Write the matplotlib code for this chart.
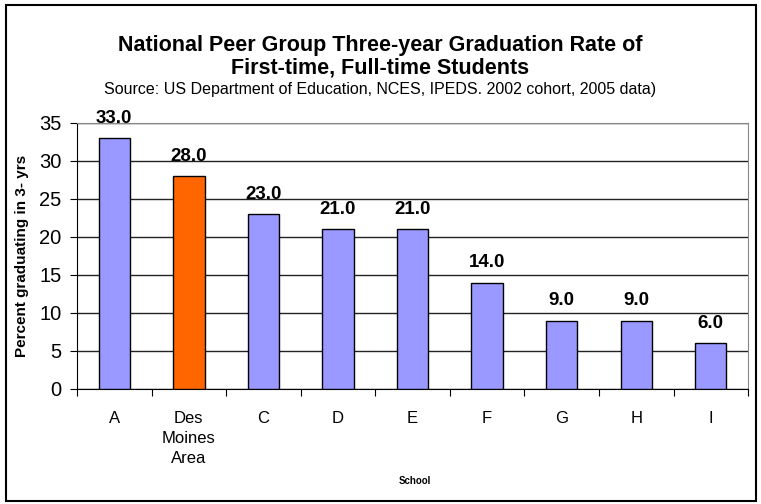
import matplotlib
matplotlib.use("Agg")
import matplotlib.pyplot as plt
from matplotlib.patches import Rectangle
import numpy as np

plt.rcParams["font.family"] = ["Liberation Sans", "DejaVu Sans"]

escuelas = ["A", "Des\nMoines\nArea", "C", "D", "E", "F", "G", "H", "I"]
tasas = [33.0, 28.0, 23.0, 21.0, 21.0, 14.0, 9.0, 9.0, 6.0]
colores = ["#9999FF", "#FF6600", "#9999FF", "#9999FF", "#9999FF",
           "#9999FF", "#9999FF", "#9999FF", "#9999FF"]

fig = plt.figure(figsize=(7.61, 5.04), dpi=100)
ax = fig.add_axes([0.1012, 0.2282, 0.8818, 0.5278])

x = np.arange(len(escuelas))
ax.bar(x, tasas, width=0.42, color=colores, edgecolor="black", linewidth=1, zorder=3)

for xi, v in zip(x, tasas):
    ax.annotate(f"{v:.1f}", (xi, v), xytext=(0, 8), textcoords="offset points",
                ha="center", va="bottom", fontsize=13.5, fontweight="bold", zorder=4)

ax.set_xlim(-0.5, len(escuelas) - 0.5)
ax.set_ylim(0, 35)
ax.set_yticks(range(0, 36, 5))
ax.tick_params(axis="y", labelsize=14.5, length=5, direction="out", pad=6)
ax.yaxis.grid(True, color="#222222", linewidth=1, zorder=0)

# etiquetas centradas, marcas en los limites de cada categoria
ax.set_xticks(np.arange(-0.5, len(escuelas), 1))
ax.set_xticklabels([])
ax.tick_params(axis="x", which="major", length=5, direction="out")
ax.set_xticks(x, minor=True)
ax.set_xticklabels(escuelas, minor=True, fontsize=12, linespacing=1.42)
ax.tick_params(axis="x", which="minor", length=0, pad=16)

for lado in ["top", "right"]:
    ax.spines[lado].set_color("#888888")
for lado in ["left", "bottom"]:
    ax.spines[lado].set_color("black")

ax.set_ylabel("Percent graduating in 3- yrs", fontsize=11, fontweight="bold")
ax.yaxis.set_label_coords(-0.0715, 0.5)
fig.text(0.545, 0.046, "School", ha="center", va="center", fontsize=7, fontweight="bold")

fig.text(0.5, 0.91, "National Peer Group Three-year Graduation Rate of",
         ha="center", va="center", fontsize=15.5, fontweight="bold")
fig.text(0.5, 0.865, "First-time, Full-time Students",
         ha="center", va="center", fontsize=15.5, fontweight="bold")
fig.text(0.5, 0.823, "Source: US Department of Education, NCES, IPEDS. 2002 cohort, 2005 data)",
         ha="center", va="center", fontsize=11.5)

fig.patches.append(Rectangle((0.008, 0.006), 0.986, 0.984, transform=fig.transFigure,
                             fill=False, edgecolor="black", linewidth=1.5))

fig.savefig("out.png", dpi=100)
